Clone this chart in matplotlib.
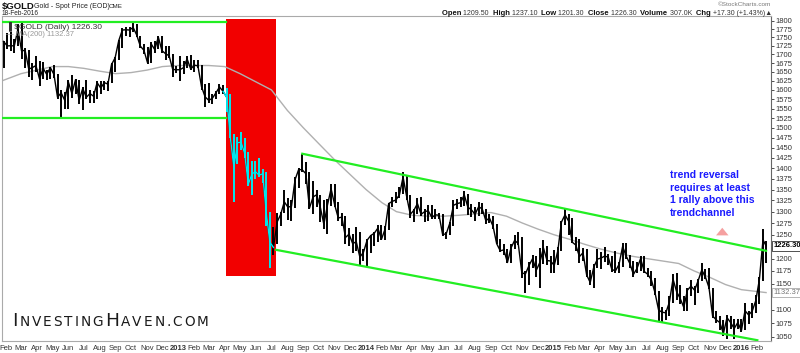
import numpy as np
import pandas as pd
import matplotlib
matplotlib.use("Agg")
import matplotlib.pyplot as plt
from matplotlib.offsetbox import TextArea, HPacker, AnchoredOffsetbox

plt.rcParams["font.family"] = ["Liberation Sans", "DejaVu Sans"]

# weekly bars: (high, low, close), week ending Friday
wk_2012 = [(1740, 1660, 1738), (1764, 1715, 1725), (1765, 1710, 1725), (1745, 1705, 1725),
           (1790, 1725, 1775), (1792, 1688, 1710), (1718, 1660, 1712), (1712, 1635, 1658),
           (1675, 1627, 1662), (1695, 1650, 1668), (1680, 1612, 1630), (1678, 1630, 1660),
           (1655, 1627, 1643), (1665, 1630, 1662), (1670, 1633, 1643), (1645, 1575, 1580),
           (1600, 1527, 1592), (1595, 1550, 1572), (1628, 1550, 1622), (1640, 1577, 1590),
           (1630, 1590, 1628), (1628, 1562, 1572), (1607, 1547, 1604), (1627, 1575, 1580),
           (1600, 1565, 1590), (1597, 1565, 1583), (1625, 1575, 1620), (1625, 1590, 1605),
           (1625, 1600, 1620), (1625, 1598, 1616), (1675, 1620, 1671), (1693, 1650, 1690),
           (1742, 1685, 1740), (1777, 1720, 1772), (1780, 1755, 1773), (1781, 1750, 1772),
           (1796, 1765, 1780), (1789, 1750, 1757), (1755, 1720, 1724), (1730, 1700, 1712),
           (1722, 1672, 1676), (1737, 1675, 1731), (1738, 1705, 1714), (1753, 1716, 1751),
           (1755, 1705, 1711), (1724, 1683, 1702), (1724, 1690, 1696), (1700, 1635, 1657),
           (1668, 1647, 1656)]
wk_2013 = [(1696, 1625, 1656), (1680, 1643, 1662), (1694, 1662, 1687), (1697, 1655, 1658),
           (1685, 1650, 1669), (1684, 1660, 1667), (1670, 1600, 1609), (1615, 1554, 1581),
           (1619, 1565, 1572), (1590, 1563, 1577), (1596, 1575, 1592), (1616, 1590, 1608),
           (1613, 1590, 1596), (1605, 1540, 1580), (1590, 1473, 1476), (1485, 1321, 1402),
           (1476, 1410, 1462), (1488, 1444, 1464), (1475, 1424, 1435), (1438, 1358, 1362),
           (1417, 1338, 1386), (1418, 1375, 1392), (1424, 1380, 1383), (1397, 1365, 1387),
           (1390, 1268, 1297), (1300, 1180, 1234), (1267, 1207, 1223), (1297, 1230, 1277),
           (1300, 1268, 1294), (1348, 1296, 1322), (1330, 1282, 1310), (1325, 1280, 1312),
           (1380, 1308, 1373), (1400, 1353, 1397), (1434, 1392, 1396), (1415, 1362, 1387),
           (1390, 1306, 1308), (1370, 1295, 1333), (1348, 1310, 1338), (1338, 1277, 1310),
           (1325, 1262, 1272), (1329, 1251, 1315), (1362, 1312, 1352), (1362, 1310, 1315),
           (1322, 1280, 1286), (1296, 1268, 1288), (1290, 1230, 1244), (1265, 1225, 1251),
           (1252, 1211, 1231), (1267, 1215, 1235), (1256, 1185, 1203), (1220, 1195, 1213)]
wk_2014 = [(1240, 1182, 1238), (1250, 1211, 1248), (1255, 1225, 1253), (1270, 1235, 1264),
           (1270, 1238, 1240), (1268, 1238, 1262), (1320, 1260, 1318), (1332, 1310, 1323),
           (1345, 1320, 1326), (1355, 1330, 1338), (1392, 1340, 1379), (1385, 1325, 1334),
           (1337, 1287, 1294), (1305, 1278, 1303), (1330, 1295, 1318), (1332, 1290, 1294),
           (1305, 1277, 1300), (1315, 1280, 1302), (1315, 1284, 1287), (1305, 1284, 1293),
           (1298, 1283, 1292), (1295, 1247, 1250), (1256, 1240, 1252), (1277, 1250, 1275),
           (1325, 1268, 1314), (1329, 1306, 1318), (1332, 1310, 1320), (1346, 1312, 1338),
           (1340, 1292, 1310), (1318, 1288, 1304), (1310, 1280, 1294), (1322, 1290, 1311),
           (1320, 1294, 1306), (1306, 1273, 1280), (1295, 1275, 1286), (1290, 1262, 1268),
           (1272, 1230, 1231), (1240, 1214, 1216), (1230, 1207, 1218), (1220, 1190, 1192),
           (1230, 1190, 1222), (1250, 1220, 1238), (1255, 1228, 1231), (1245, 1160, 1171),
           (1175, 1132, 1169), (1192, 1147, 1186), (1208, 1180, 1200), (1205, 1162, 1176),
           (1222, 1142, 1192), (1238, 1188, 1222), (1226, 1186, 1196), (1205, 1170, 1195)]
wk_2015 = [(1218, 1170, 1186), (1223, 1187, 1216), (1280, 1215, 1277), (1307, 1270, 1293),
           (1295, 1250, 1279), (1285, 1232, 1234), (1245, 1216, 1228), (1240, 1190, 1204),
           (1222, 1195, 1212), (1220, 1163, 1167), (1177, 1148, 1152), (1188, 1142, 1183),
           (1219, 1180, 1199), (1213, 1178, 1201), (1224, 1193, 1205), (1209, 1186, 1203),
           (1205, 1173, 1178), (1215, 1170, 1175), (1194, 1170, 1188), (1232, 1183, 1225),
           (1232, 1200, 1205), (1207, 1180, 1190), (1195, 1162, 1168), (1193, 1170, 1180),
           (1205, 1175, 1200), (1205, 1170, 1174), (1180, 1162, 1168), (1175, 1145, 1157),
           (1160, 1128, 1132), (1135, 1078, 1099), (1105, 1077, 1095), (1100, 1080, 1094),
           (1126, 1088, 1114), (1168, 1112, 1159), (1170, 1118, 1134), (1147, 1110, 1121),
           (1125, 1098, 1104), (1142, 1098, 1137), (1157, 1125, 1145), (1145, 1108, 1137),
           (1158, 1132, 1156), (1191, 1154, 1177), (1178, 1158, 1163), (1180, 1140, 1142),
           (1142, 1085, 1088), (1097, 1075, 1081), (1088, 1062, 1076), (1080, 1052, 1056),
           (1090, 1046, 1085), (1088, 1065, 1076), (1082, 1046, 1065), (1082, 1065, 1076)]
wk_2016 = [(1083, 1058, 1061), (1112, 1062, 1098), (1098, 1074, 1090), (1112, 1084, 1097),
           (1128, 1094, 1117), (1162, 1110, 1158), (1263, 1155, 1239), (1237.1, 1191, 1226.3)]
last_day = "2016-02-18"

# 200-day moving average
ma_dates = ["2012-01-24", "2012-03-01", "2012-04-01", "2012-05-01", "2012-06-01", "2012-07-01",
            "2012-08-01", "2012-09-01", "2012-10-01", "2012-11-01", "2012-12-01", "2013-01-01",
            "2013-02-01", "2013-03-01", "2013-04-01", "2013-05-01", "2013-06-01", "2013-07-01",
            "2013-08-01", "2013-09-01", "2013-10-01", "2013-11-01", "2013-12-01", "2014-01-01",
            "2014-02-01", "2014-03-01", "2014-04-01", "2014-05-01", "2014-06-01", "2014-07-01",
            "2014-08-01", "2014-09-01", "2014-10-01", "2014-11-01", "2014-12-01", "2015-01-01",
            "2015-02-01", "2015-03-01", "2015-04-01", "2015-05-01", "2015-06-01", "2015-07-01",
            "2015-08-01", "2015-09-01", "2015-10-01", "2015-11-01", "2015-12-01", "2016-01-01",
            "2016-02-18"]
ma_values = [1625, 1645, 1655, 1665, 1665, 1660,
             1652, 1645, 1648, 1655, 1665, 1668,
             1668, 1668, 1665, 1645, 1622, 1600,
             1545, 1500, 1460, 1420, 1385, 1350,
             1320, 1300, 1292, 1290, 1290, 1292,
             1295, 1298, 1290, 1275, 1262, 1250,
             1240, 1230, 1220, 1212, 1205, 1200,
             1195, 1190, 1175, 1162, 1148, 1138,
             1132.37]

# drawn annotations
range_dates = ["2012-01-24", "2013-04-03"]
range_top = 1796
range_bottom = 1525
upper_dates = ["2013-08-30", "2016-02-18"]
upper_vals = [1435, 1216]
lower_dates = ["2013-07-10", "2016-02-01"]
lower_vals = [1218, 1044]
crash_dates = ["2013-04-03", "2013-07-10"]
crash_vals = [1164, 1806]
cyan_dates = ["2013-04-04", "2013-06-29"]

y_ticks = [1050, 1075, 1100, 1150, 1175, 1200, 1250, 1275, 1300, 1325, 1350, 1375, 1400,
           1425, 1450, 1475, 1500, 1525, 1550, 1575, 1600, 1625, 1650, 1675, 1700, 1725,
           1750, 1775, 1800]

wk = wk_2012 + wk_2013 + wk_2014 + wk_2015 + wk_2016
hi = np.array([w[0] for w in wk])
lo = np.array([w[1] for w in wk])
cl = np.array([w[2] for w in wk])
dates = pd.date_range("2012-01-27", periods=len(wk) - 1, freq="W-FRI").append(pd.DatetimeIndex([last_day]))

fig = plt.figure(figsize=(8, 3.53), dpi=100)
ax = fig.add_axes([2 / 800, 12 / 353, 768.7 / 800, 325 / 353])
ax.set_yscale("log")

cy0, cy1 = pd.Timestamp(cyan_dates[0]), pd.Timestamp(cyan_dates[1])
in_cyan = (dates >= cy0) & (dates <= cy1)

# crash zone
ax.fill_between(pd.to_datetime(crash_dates), crash_vals[0], crash_vals[1],
                color="#f20000", lw=0, zorder=1)

# MA(200)
ax.plot(pd.to_datetime(ma_dates), ma_values, color="#b0b0b0", lw=1.0, zorder=2)

# price
ax.vlines(dates[~in_cyan], lo[~in_cyan], hi[~in_cyan], color="black", lw=1.4, zorder=3)
ax.plot(dates, cl, color="black", lw=1.0, zorder=3)
ci = np.where(in_cyan)[0]
seg = slice(ci[0] - 1, ci[-1] + 2)
ax.vlines(dates[in_cyan], lo[in_cyan], hi[in_cyan], color="#00e8f0", lw=1.4, zorder=4)
ax.plot(dates[seg], cl[seg], color="#00e8f0", lw=1.0, zorder=4)

# trend lines
green = "#22ee22"
rd = pd.to_datetime(range_dates)
ax.plot(rd, [range_top, range_top], color=green, lw=1.6, zorder=5)
ax.plot(rd, [range_bottom, range_bottom], color=green, lw=1.6, zorder=5)
ax.plot(pd.to_datetime(upper_dates), upper_vals, color=green, lw=1.6, zorder=5)
ax.plot(pd.to_datetime(lower_dates), lower_vals, color=green, lw=1.6, zorder=5)

ax.set_xlim(pd.Timestamp("2012-01-24"), pd.Timestamp("2016-02-27"))
ax.set_ylim(1042.6, 1815)

# right axis
ax.yaxis.tick_right()
ax.yaxis.set_minor_locator(matplotlib.ticker.NullLocator())
ax.set_yticks(y_ticks)
ax.set_yticklabels([str(v) for v in y_ticks])
ax.tick_params(axis="y", labelsize=5.5, length=2, width=0.6, pad=1.5, colors="#333333")

# bottom axis: months, years in bold
months = pd.date_range("2012-02-01", "2016-02-01", freq="MS")
ax.set_xticks(months)
ax.set_xticklabels([m.strftime("%Y") if m.month == 1 else m.strftime("%b") for m in months])
for lab, m in zip(ax.get_xticklabels(), months):
    if m.month == 1:
        lab.set_fontweight("bold")
        lab.set_fontsize(6.3)
ax.tick_params(axis="x", labelsize=5.5, length=0, pad=3, colors="#333333")

for side in ["left", "top", "bottom"]:
    ax.spines[side].set_color("#aaaaaa")
    ax.spines[side].set_linewidth(0.8)
ax.spines["right"].set_color("#666666")
ax.spines["right"].set_linewidth(0.8)

# last value boxes on the axis
ax.annotate(f"{cl[-1]:.2f}", xy=(1, cl[-1]), xycoords=("axes fraction", "data"),
            xytext=(2, 0), textcoords="offset points", fontsize=5.5, fontweight="bold",
            va="center", ha="left",
            bbox=dict(boxstyle="square,pad=0.15", fc="white", ec="#333333", lw=0.6))
ax.annotate(f"{ma_values[-1]:.2f}", xy=(1, ma_values[-1]), xycoords=("axes fraction", "data"),
            xytext=(2, 0), textcoords="offset points", fontsize=5.5, color="#777777",
            va="center", ha="left",
            bbox=dict(boxstyle="square,pad=0.15", fc="white", ec="#aaaaaa", lw=0.6))

# in-chart legend
ax.text(0.005, 0.985, "\u2590 $GOLD (Daily) 1226.30", transform=ax.transAxes, fontsize=6,
        color="#333333", va="top", ha="left", zorder=6)
ax.text(0.005, 0.955, "\u2014 MA(200) 1132.37", transform=ax.transAxes, fontsize=5.5,
        color="#999999", va="top", ha="left", zorder=6)

# commentary
ax.text(0.869, 0.525, "trend reversal\nrequires at least\n1 rally above this\ntrendchannel",
        transform=ax.transAxes, fontsize=7.5, fontweight="bold", color="#1a1aff",
        va="top", ha="left", linespacing=1.3, zorder=6)
ax.annotate("", xy=(0.937, 0.357), xytext=(0.937, 0.322), xycoords="axes fraction",
            arrowprops=dict(arrowstyle="simple,head_width=0.9,head_length=0.55,tail_width=0.45",
                            color="#f5a0a0", lw=0), zorder=6)

# watermark, small caps
wm_parts = []
for word, big in [("I", True), ("NVESTING", False), ("H", True), ("AVEN.COM", False)]:
    for ch in word:
        wm_parts.append(TextArea(ch, textprops=dict(fontsize=13.3 if big else 9.8,
                                                    family="DejaVu Sans", color="#1a1a1a")))
wm = HPacker(children=wm_parts, align="baseline", pad=0, sep=1.4)
fig.add_artist(AnchoredOffsetbox(loc="lower left", child=wm, pad=0, borderpad=0, frameon=False,
                                 bbox_to_anchor=(12 / 800, 23 / 353),
                                 bbox_transform=fig.transFigure))

# header
fig.text(2 / 800, 1 - 8.5 / 353, "$GOLD", fontsize=6.8, fontweight="bold", color="#111111")
fig.text(34 / 800, 1 - 8.5 / 353, "Gold - Spot Price (EOD)", fontsize=5.0, color="#222222")
fig.text(109 / 800, 1 - 8.5 / 353, "CME", fontsize=4.5, color="#222222")
fig.text(2 / 800, 1 - 15.3 / 353, "18-Feb-2016", fontsize=4.7, color="#222222")
fig.text(771 / 800, 1 - 6.5 / 353, "\u00a9StockCharts.com", fontsize=4.6, color="#777777", ha="right")

hdr = []
for lab, val in [("Open", "1209.50"), ("High", "1237.10"), ("Low", "1201.30"),
                 ("Close", "1226.30"), ("Volume", "307.0K"), ("Chg", "+17.30 (+1.43%)\u25b2")]:
    hdr.append(TextArea(lab + " ", textprops=dict(fontsize=5.5, fontweight="bold", color="#111111")))
    hdr.append(TextArea(val + "  ", textprops=dict(fontsize=5.0, color="#333333")))
hp = HPacker(children=hdr, align="baseline", pad=0, sep=0)
fig.add_artist(AnchoredOffsetbox(loc="lower right", child=hp, pad=0, borderpad=0, frameon=False,
                                 bbox_to_anchor=(776 / 800, 1 - 16.8 / 353),
                                 bbox_transform=fig.transFigure))

fig.savefig("out.png", dpi=100, facecolor="white")
